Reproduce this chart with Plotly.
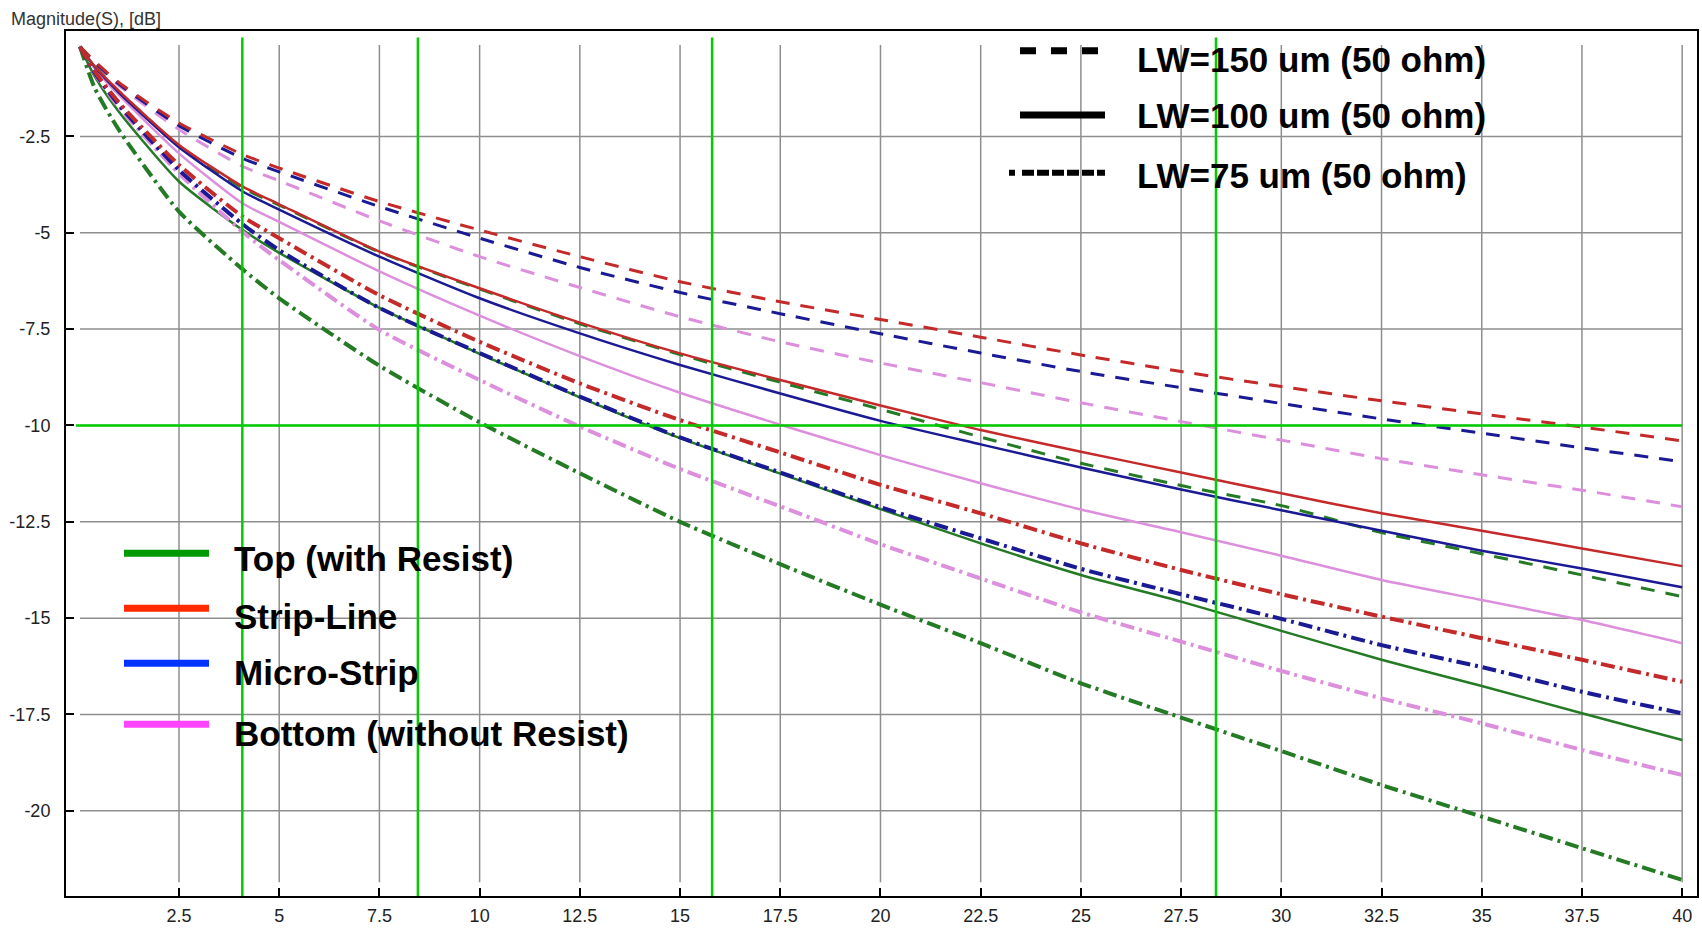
import plotly.graph_objects as go

# ---------------- data ----------------
freq = [0.03, 0.4, 1, 2.5, 4.09, 5, 7.5, 10, 12.5, 15, 17.5, 20, 22.5, 25, 27.5, 30, 32.5, 35, 37.5, 40]

# LW=150 um (dashed)
strip_150 = [-0.17, -0.55, -1.10, -2.15, -2.97, -3.32, -4.19, -4.93, -5.62, -6.27, -6.79, -7.25, -7.71, -8.17, -8.60, -8.99, -9.36, -9.70, -10.04, -10.40]
micro_150 = [-0.17, -0.58, -1.14, -2.22, -3.07, -3.42, -4.32, -5.14, -5.90, -6.55, -7.10, -7.62, -8.12, -8.60, -9.02, -9.43, -9.83, -10.20, -10.58, -10.94]
bottom_150 = [-0.17, -0.60, -1.18, -2.32, -3.28, -3.65, -4.69, -5.62, -6.42, -7.18, -7.83, -8.38, -8.89, -9.41, -9.90, -10.38, -10.86, -11.28, -11.68, -12.11]
top_150 = [-0.17, -0.68, -1.33, -2.74, -3.84, -4.28, -5.50, -6.46, -7.36, -8.16, -8.88, -9.58, -10.30, -10.98, -11.56, -12.08, -12.78, -13.33, -13.88, -14.44]

# LW=100 um (solid)
strip_100 = [-0.17, -0.68, -1.32, -2.72, -3.80, -4.26, -5.49, -6.44, -7.33, -8.13, -8.82, -9.48, -10.12, -10.68, -11.22, -11.76, -12.28, -12.73, -13.19, -13.65]
micro_100 = [-0.17, -0.70, -1.36, -2.78, -3.93, -4.40, -5.62, -6.70, -7.61, -8.43, -9.17, -9.88, -10.49, -11.09, -11.66, -12.20, -12.73, -13.25, -13.71, -14.20]
bottom_100 = [-0.17, -0.74, -1.42, -2.94, -4.24, -4.72, -6.00, -7.15, -8.20, -9.15, -9.98, -10.77, -11.50, -12.18, -12.77, -13.38, -14.01, -14.53, -15.05, -15.65]
top_100 = [-0.17, -0.95, -1.86, -3.67, -4.93, -5.52, -6.95, -8.14, -9.27, -10.33, -11.25, -12.17, -13.06, -13.88, -14.57, -15.33, -16.08, -16.76, -17.47, -18.16]

# LW=75 um (dash-dot)
strip_75 = [-0.17, -0.82, -1.62, -3.24, -4.58, -5.14, -6.62, -7.83, -8.91, -9.86, -10.70, -11.54, -12.28, -13.06, -13.75, -14.38, -14.96, -15.52, -16.08, -16.65]
micro_75 = [-0.17, -0.85, -1.68, -3.37, -4.78, -5.45, -6.95, -8.12, -9.25, -10.31, -11.22, -12.12, -12.93, -13.72, -14.38, -15.02, -15.70, -16.27, -16.91, -17.47]
bottom_75 = [-0.17, -0.87, -1.74, -3.46, -4.98, -5.71, -7.52, -8.82, -10.03, -11.13, -12.10, -13.08, -13.97, -14.85, -15.61, -16.37, -17.08, -17.73, -18.42, -19.07]
top_75 = [-0.17, -1.25, -2.33, -4.45, -5.95, -6.70, -8.45, -9.92, -11.24, -12.50, -13.60, -14.65, -15.65, -16.69, -17.58, -18.45, -19.33, -20.15, -20.97, -21.79]

x_ticks = [2.5, 5, 7.5, 10, 12.5, 15, 17.5, 20, 22.5, 25, 27.5, 30, 32.5, 35, 37.5, 40]
y_ticks = [-2.5, -5, -7.5, -10, -12.5, -15, -17.5, -20]
marker_x = [4.08, 8.46, 15.8, 28.37]
marker_y = [-10]

type_names = ["Top (with Resist)", "Strip-Line", "Micro-Strip", "Bottom (without Resist)"]
width_names = ["LW=150 um (50 ohm)", "LW=100 um (50 ohm)", "LW=75 um (50 ohm)"]

# ---------------- styling ----------------
RED, BLUE, PINK, GREEN = "#c42a2a", "#1a1a94", "#dc8fdc", "#257a25"
DASH_150 = "14px,11px"
DASH_75 = "14px,5px,3px,5px"

series = [
    (bottom_150, PINK, DASH_150, 3), (micro_150, BLUE, DASH_150, 3),
    (strip_150, RED, DASH_150, 3), (top_150, GREEN, DASH_150, 3),
    (bottom_100, PINK, "solid", 2.5), (top_100, GREEN, "solid", 2.5),
    (micro_100, BLUE, "solid", 2.5), (strip_100, RED, "solid", 2.5),
    (bottom_75, PINK, DASH_75, 4), (top_75, GREEN, DASH_75, 4),
    (micro_75, BLUE, DASH_75, 4), (strip_75, RED, DASH_75, 4),
]

fig = go.Figure()
for ys, col, dash, w in series:
    fig.add_trace(go.Scatter(x=freq, y=ys, mode="lines",
                             line=dict(color=col, width=w, dash=dash, shape="spline", smoothing=0.6),
                             showlegend=False, hoverinfo="skip"))

# plot area in pixels
L, R, T, B = 66, 1697, 31, 896
PW, PH = R - L, B - T
def px(X):
    return (X - L) / PW
def py(Y):
    return (B - Y) / PH

shapes = []
GRID = "#8e8e8e"
for xv in x_ticks:
    shapes.append(dict(type="line", xref="x", yref="y", x0=xv, x1=xv, y0=-21.85, y1=-0.13,
                       line=dict(color=GRID, width=1.5), layer="below"))
for yv in y_ticks:
    shapes.append(dict(type="line", xref="x", yref="y", x0=0.03, x1=40, y0=yv, y1=yv,
                       line=dict(color=GRID, width=1.5), layer="below"))
GREEN_MARK = "#00cc00"
for xv in marker_x:
    shapes.append(dict(type="line", xref="x", yref="y", x0=xv, x1=xv, y0=-22.21, y1=0.07,
                       line=dict(color=GREEN_MARK, width=2.5), layer="above"))
for yv in marker_y:
    shapes.append(dict(type="line", xref="x", yref="y", x0=-0.07, x1=40, y0=yv, y1=yv,
                       line=dict(color=GREEN_MARK, width=2.5), layer="above"))

# left legend (colours)
leg_cols = ["#009900", "#ff2a00", "#0033ff", "#ff44ff"]
leg_line_y = [553.3, 608.3, 663.3, 724.3]
leg_text_y = [559, 616, 672, 733]
for c, ly in zip(leg_cols, leg_line_y):
    shapes.append(dict(type="line", xref="paper", yref="paper", x0=px(124), x1=px(209),
                       y0=py(ly), y1=py(ly), line=dict(color=c, width=7), layer="above"))

# top-right legend (line widths)
shapes.append(dict(type="line", xref="paper", yref="paper", x0=px(1020), x1=px(1100.5),
                   y0=py(50.7), y1=py(50.7), line=dict(color="black", width=7, dash="16px,15px")))
shapes.append(dict(type="line", xref="paper", yref="paper", x0=px(1020), x1=px(1105),
                   y0=py(115), y1=py(115), line=dict(color="black", width=7)))
shapes.append(dict(type="line", xref="paper", yref="paper", x0=px(1009), x1=px(1107),
                   y0=py(172.7), y1=py(172.7),
                   line=dict(color="black", width=6,
                             dash="6px,7px,12px,3px,12px,3px,12px,3px,12px,3px,12px,3px,8px")))

annotations = []
LEG_FONT = dict(family="Liberation Sans, Arial, sans-serif", size=35, color="black", weight="bold")
for name, ty in zip(type_names, leg_text_y):
    annotations.append(dict(text=name, xref="paper", yref="paper", x=px(232), y=py(ty),
                            xanchor="left", yanchor="middle", showarrow=False, font=LEG_FONT))
for name, ty in zip(width_names, [59.5, 115.8, 175]):
    annotations.append(dict(text=name, xref="paper", yref="paper", x=px(1135), y=py(ty),
                            xanchor="left", yanchor="middle", showarrow=False, font=LEG_FONT))
annotations.append(dict(text="Magnitude(S), [dB]", xref="paper", yref="paper", x=px(9), y=py(19),
                        xanchor="left", yanchor="middle", showarrow=False,
                        font=dict(family="Liberation Sans, Arial, sans-serif", size=18, color="#333333")))

TICK_FONT = dict(family="Liberation Sans Narrow, Arial Narrow, sans-serif", size=18, color="#222222")
fig.update_layout(
    width=1702, height=929,
    margin=dict(l=L, r=1702 - R, t=T, b=929 - B, autoexpand=False),
    paper_bgcolor="white", plot_bgcolor="white",
    shapes=shapes, annotations=annotations,
    xaxis=dict(range=[-0.319, 40.37], tickvals=x_ticks, ticktext=[f"{v:g}" for v in x_ticks],
               showgrid=False, zeroline=False, showline=True, linecolor="black", linewidth=2,
               mirror=True, ticks="inside", ticklen=8, tickwidth=1.5, tickcolor="black",
               tickfont=TICK_FONT, ticklabelstandoff=2, automargin=False),
    yaxis=dict(range=[-22.21, 0.236], tickvals=y_ticks, ticktext=[f"{v:g}" for v in y_ticks],
               showgrid=False, zeroline=False, showline=True, linecolor="black", linewidth=2,
               mirror=True, ticks="inside", ticklen=8, tickwidth=1.5, tickcolor="black",
               tickfont=TICK_FONT, ticklabelstandoff=10, automargin=False),
)

fig.write_html("out.html")
